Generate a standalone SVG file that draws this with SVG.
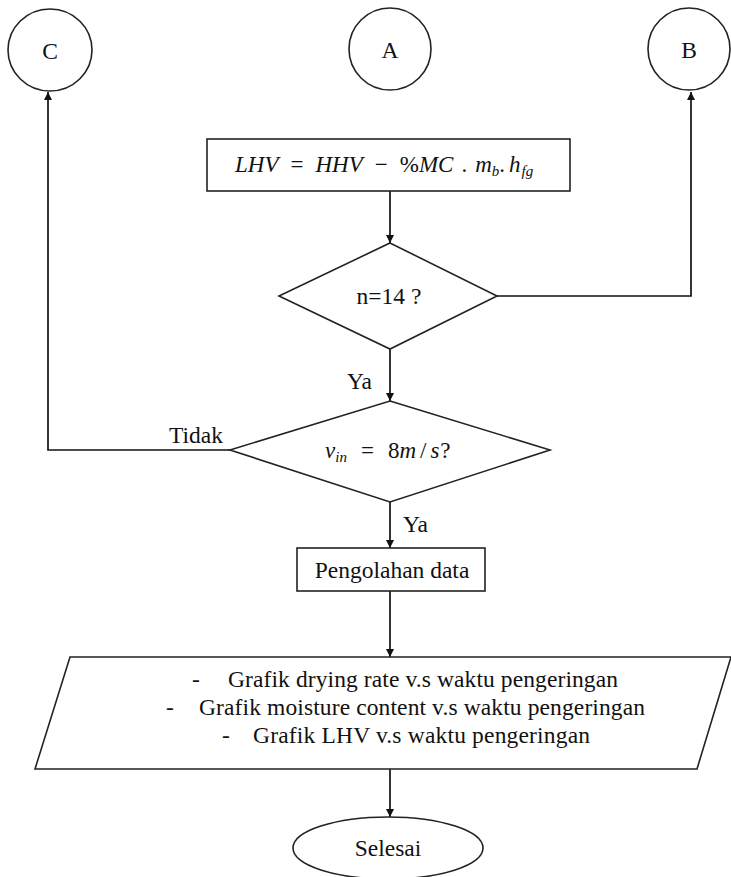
<svg xmlns="http://www.w3.org/2000/svg" width="731" height="877" viewBox="0 0 731 877">
<defs>
<marker id="arr" viewBox="0 0 10 10" refX="10" refY="5" markerWidth="8" markerHeight="8" markerUnits="userSpaceOnUse" orient="auto">
<path d="M0,0 L10,5 L0,10 z" fill="#111"/>
</marker>
<style>
.s{fill:#fff;stroke:#222;stroke-width:1.6}
.c{fill:none;stroke:#111;stroke-width:1.7}
.t{font-family:"Liberation Serif","Times New Roman",serif;font-size:23.5px;fill:#111}
.m{font-family:"Liberation Serif","Times New Roman",serif;font-size:23px;fill:#111}
.i{font-style:italic}
</style>
</defs>
<rect width="731" height="877" fill="#fff"/>
<g id="connectors">
<line class="c" x1="390" y1="191" x2="390" y2="243" marker-end="url(#arr)"/>
<polyline class="c" points="497,296 691,296 691,92" marker-end="url(#arr)"/>
<line class="c" x1="390" y1="349" x2="390" y2="401" marker-end="url(#arr)"/>
<polyline class="c" points="230,450 48,450 48,92" marker-end="url(#arr)"/>
<line class="c" x1="390" y1="502" x2="390" y2="548" marker-end="url(#arr)"/>
<line class="c" x1="390" y1="591" x2="390" y2="657" marker-end="url(#arr)"/>
<line class="c" x1="390" y1="769" x2="390" y2="817" marker-end="url(#arr)"/>
<text class="t" x="347" y="389">Ya</text>
<text class="t" x="169" y="443">Tidak</text>
<text class="t" x="403" y="532">Ya</text>
</g>
<g id="nodeC">
<ellipse class="s" cx="50" cy="50" rx="42" ry="41"/>
<text class="t" x="50" y="59" text-anchor="middle" font-size="30">C</text>
</g>
<g id="nodeA">
<ellipse class="s" cx="390" cy="49" rx="41" ry="41"/>
<text class="t" x="390" y="58" text-anchor="middle" font-size="30">A</text>
</g>
<g id="nodeB">
<ellipse class="s" cx="689" cy="49" rx="41" ry="41"/>
<text class="t" x="689" y="58" text-anchor="middle" font-size="30">B</text>
</g>
<g id="lhv">
<rect class="s" x="207" y="139" width="363" height="52"/>
<text class="m" x="235" y="172"><tspan class="i">LHV</tspan><tspan dx="12">=</tspan><tspan class="i" dx="12">HHV</tspan><tspan dx="12">−</tspan><tspan dx="12">%</tspan><tspan class="i">MC</tspan><tspan dx="8">.</tspan><tspan class="i" dx="8">m</tspan><tspan class="i" font-size="15" dy="4">b</tspan><tspan dy="-4">.</tspan><tspan class="i" dx="4">h</tspan><tspan class="i" font-size="15" dy="4" dx="1">fg</tspan></text>
</g>
<g id="dec1">
<polygon class="s" points="390,243 497,296 390,349 279,296"/>
<text class="t" x="389" y="304" text-anchor="middle">n=14 ?</text>
</g>
<g id="dec2">
<polygon class="s" points="390,401 550,450 390,502 230,450"/>
<text class="m" x="325" y="458"><tspan class="i">v</tspan><tspan class="i" font-size="15" dy="4">in</tspan><tspan dy="-4" dx="14">=</tspan><tspan dx="14">8</tspan><tspan class="i">m</tspan><tspan dx="4">/</tspan><tspan class="i" dx="4">s</tspan><tspan dx="1">?</tspan></text>
</g>
<g id="proc">
<rect class="s" x="297" y="548" width="188" height="43"/>
<text class="t" x="392" y="578" text-anchor="middle">Pengolahan data</text>
</g>
<g id="output">
<polygon class="s" points="70,657 731,657 697,769 35,769"/>
<text class="t" x="192" y="687">-</text>
<text class="t" x="228" y="687" textLength="390">Grafik drying rate v.s waktu pengeringan</text>
<text class="t" x="166" y="715">-</text>
<text class="t" x="199" y="715" textLength="446">Grafik moisture content v.s waktu pengeringan</text>
<text class="t" x="222" y="743">-</text>
<text class="t" x="253" y="743" textLength="337">Grafik LHV v.s waktu pengeringan</text>
</g>
<g id="end">
<ellipse class="s" cx="388" cy="848" rx="95" ry="31"/>
<text class="t" x="388" y="856" text-anchor="middle">Selesai</text>
</g>
</svg>
